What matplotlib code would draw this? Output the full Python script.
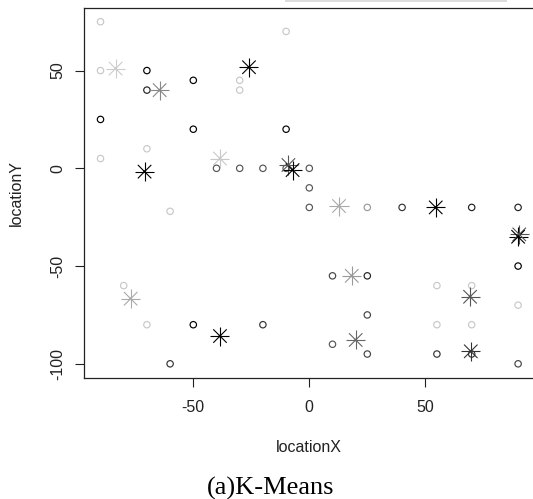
import numpy as np
import matplotlib
matplotlib.use("Agg")
import matplotlib.pyplot as plt
from matplotlib.patches import Rectangle

# data points (open circles), grey level = cluster
pt_x = [-90, -90, -70, -70, -50, -90, -50, -90, -70, -60,
        -40, -30, -20, -10, -30, -30, -10, -10, 0, 0,
        0, 25, 40, 70, 90, 90, 10, 25, 55, 70,
        90, -80, -70, -50, -20, 25, 55, 70, 10, 25,
        55, 70, 90, -60]
pt_y = [75, 50, 50, 40, 45, 25, 20, 5, 10, -22,
        0, 0, 0, 0, 45, 40, 70, 20, 0, -10,
        -20, -20, -20, -20, -20, -50, -55, -55, -60, -60,
        -70, -60, -80, -80, -80, -75, -80, -80, -90, -95,
        -95, -95, -100, -100]
pt_col = ["#c8c8c8", "#c8c8c8", "#000000", "#222222", "#000000", "#000000", "#000000", "#c8c8c8", "#c8c8c8", "#c8c8c8",
          "#555555", "#555555", "#555555", "#555555", "#c8c8c8", "#c8c8c8", "#c8c8c8", "#000000", "#555555", "#555555",
          "#555555", "#999999", "#333333", "#222222", "#222222", "#000000", "#444444", "#222222", "#c8c8c8", "#c8c8c8",
          "#c8c8c8", "#c8c8c8", "#c8c8c8", "#000000", "#333333", "#444444", "#c8c8c8", "#c8c8c8", "#555555", "#444444",
          "#333333", "#333333", "#444444", "#333333"]

# cluster centres (asterisks)
ctr_x = [-83.5, -64.5, -71, -38.5, -26, -9, -7.2, 12.8, 54.5, 90.5,
         90, 18.3, 69.3, -77, -38.5, 20, 69.6]
ctr_y = [51, 40, -1.7, 5, 51.7, 1.7, -0.9, -19.3, -20, -33.8,
         -35, -55, -65.7, -66.7, -85.8, -87.8, -93.6]
ctr_col = ["#cccccc", "#888888", "#000000", "#c8c8c8", "#000000", "#555555", "#000000", "#aaaaaa", "#000000", "#555555",
           "#000000", "#999999", "#555555", "#aaaaaa", "#000000", "#666666", "#333333"]

x_ticks = [-50, 0, 50]
y_ticks = [-100, -50, 0, 50]

plt.rcParams["font.family"] = ["Liberation Sans", "DejaVu Sans"]

W, H = 533, 499
fig = plt.figure(figsize=(W / 100, H / 100), dpi=100)
ax = fig.add_axes([83.8 / W, 1 - 377.5 / H, 451 / W, 369.5 / H])

ax.scatter(pt_x, pt_y, s=4.6 ** 2, marker="o", facecolors="none",
           edgecolors=pt_col, linewidths=0.85, zorder=2)

# R-style pch=8: a plus and an x of equal arm length
arm = 13.7
ax.scatter(ctr_x, ctr_y, s=arm ** 2, marker="+", c=ctr_col, linewidths=0.8, zorder=3)
ax.scatter(ctr_x, ctr_y, s=(arm / np.sqrt(2)) ** 2, marker="x", c=ctr_col, linewidths=0.8, zorder=3)
ax.scatter(ctr_x, ctr_y, s=2.0 ** 2, marker="o", c=ctr_col, linewidths=0, zorder=4)

ax.set_xlim(-97.2, 97.2)
ax.set_ylim(-107, 82)
ax.set_xticks(x_ticks)
ax.set_yticks(y_ticks)
ax.set_xticklabels([str(v) for v in x_ticks], fontsize=11.5, color="#222222")
ax.set_yticklabels([str(v) for v in y_ticks], fontsize=11.5, color="#222222",
                   rotation=90, va="center")
ax.tick_params(axis="both", direction="out", length=6.5, width=0.8, color="#222222")
ax.tick_params(axis="x", pad=10)
ax.tick_params(axis="y", pad=7)
for sp in ax.spines.values():
    sp.set_linewidth(0.9)
    sp.set_color("#222222")

# faint edge of the panel above
fig.patches.append(Rectangle((285 / W, 1 - 2 / H), 222 / W, 2 / H,
                             transform=fig.transFigure, color="#dcdcdc", lw=0))

fig.text(309.3 / W, 1 - 448 / H, "locationX", fontsize=11.5, color="#222222",
         ha="center", va="center")
fig.text(16 / W, 1 - 192.7 / H, "locationY", fontsize=11.5, color="#222222",
         ha="center", va="center", rotation=90)
fig.text(271 / W, 1 - 488 / H, "(a)K-Means", fontsize=19,
         family=["Liberation Serif", "DejaVu Serif"], ha="center", va="center")

fig.savefig("out.png", dpi=100)
